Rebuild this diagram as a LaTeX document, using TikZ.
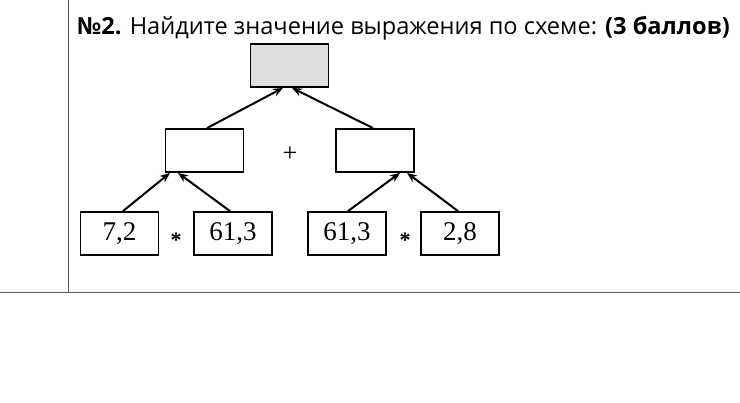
\documentclass[tikz,border=0pt]{standalone}
\usepackage{fontspec}
\setmainfont{Liberation Serif}
\newfontfamily\titlefont{Open Sans}
\usetikzlibrary{arrows.meta}
\begin{document}
\begin{tikzpicture}[x=1pt,y=-1pt,
  bx/.style={draw,line width=1.8pt,minimum width=78pt,minimum height=43pt,inner sep=0pt,font=\fontsize{27}{27}\selectfont},
  ar/.style={line width=2pt,-{Stealth[length=10pt,width=8pt]}},
  op/.style={inner sep=0pt,font=\fontsize{26}{26}\selectfont}]
\useasboundingbox (0,0) rectangle (740,403);
\draw[line width=1pt,gray!70!black] (68,0) -- (68,293);
\draw[line width=1pt,gray!70!black] (0,293) -- (740,293);
\node[anchor=west,inner sep=0pt,font=\titlefont\fontsize{23.6}{24}\selectfont] (title) at (77,28) {\textbf{№2.} Найдите значение выражения по схеме: \textbf{(3 баллов)}};
\node[bx,fill=gray!25] (top) at (289.5,65.5) {};
\node[bx] (ml) at (204.5,150.5) {};
\node[bx] (mr) at (375,150.5) {};
\node[bx] (b1) at (119.5,233.5) {7,2};
\node[bx] (b2) at (233,233.5) {61,3};
\node[bx] (b3) at (347,233.5) {61,3};
\node[bx] (b4) at (460,233.5) {2,8};
\node[op] (plus) at (290,154) {+};
\node[op,font=\fontsize{22}{22}\selectfont\bfseries] (s1) at (176,240) {*};
\node[op,font=\fontsize{22}{22}\selectfont\bfseries] (s2) at (405,240) {*};
\draw[ar] (b1.north -| 123,0) -- (ml.south -| 170,0);
\draw[ar] (b2.north -| 230,0) -- (ml.south -| 178,0);
\draw[ar] (b3.north -| 348,0) -- (mr.south -| 400,0);
\draw[ar] (b4.north -| 458,0) -- (mr.south -| 407,0);
\draw[ar] (ml.north -| 207,0) -- (top.south -| 283,0);
\draw[ar] (mr.north -| 373,0) -- (top.south -| 292,0);
\end{tikzpicture}
\end{document}
